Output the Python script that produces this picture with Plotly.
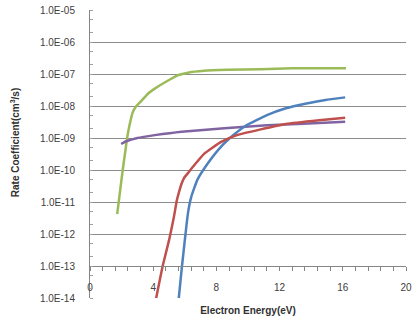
import plotly.graph_objects as go

# Electron energy (eV) and rate coefficients (cm^3/s)
green_E = [1.72, 2.07, 2.24, 2.35, 2.5, 2.7, 2.9, 3.1, 3.7, 4.1, 5.0, 5.6, 6.2, 7.2, 8.7, 10.8, 12.8, 16.2]
green_k = [4.2e-12, 1.0e-10, 4.0e-10, 1.0e-09, 2.5e-09, 6.3e-09, 9.5e-09, 1.2e-08, 2.5e-08,
           3.5e-08, 6.5e-08, 9.3e-08, 1.1e-07, 1.26e-07, 1.35e-07, 1.41e-07, 1.5e-07, 1.5e-07]

purple_E = [1.97, 2.3, 3.0, 4.1, 5.8, 8.5, 11.2, 13.5, 16.15]
purple_k = [6.5e-10, 7.9e-10, 1.0e-09, 1.23e-09, 1.58e-09, 2.0e-09, 2.5e-09, 2.8e-09, 3.2e-09]

blue_E = [5.6, 5.8, 6.0, 6.2, 6.4, 6.8, 7.45, 8.3, 9.1, 9.9, 11.2, 12.4, 13.7, 14.9, 16.15]
blue_k = [8.0e-15, 7.9e-14, 6.3e-13, 4.5e-12, 1.4e-11, 5.0e-11, 1.6e-10, 5.4e-10, 1.26e-09,
          2.5e-09, 5.2e-09, 8.5e-09, 1.2e-08, 1.55e-08, 1.86e-08]

red_E = [4.15, 4.6, 5.0, 5.3, 5.5, 5.65, 5.8, 5.95, 6.2, 6.45, 7.25, 8.3, 9.3, 10.8, 12.4, 14.5, 16.15]
red_k = [8.0e-15, 1.0e-13, 6.3e-13, 3.2e-12, 1.15e-11, 2.2e-11, 3.8e-11, 5.6e-11, 8.0e-11,
         1.15e-10, 3.3e-10, 7.6e-10, 1.23e-09, 1.86e-09, 2.75e-09, 3.6e-09, 4.3e-09]

y_tickvals = [1e-14, 1e-13, 1e-12, 1e-11, 1e-10, 1e-09, 1e-08, 1e-07, 1e-06, 1e-05]
y_ticktext = ["1.0E-14", "1.0E-13", "1.0E-12", "1.0E-11", "1.0E-10",
              "1.0E-09", "1.0E-08", "1.0E-07", "1.0E-06", "1.0E-05"]
x_tickvals = [0, 4, 8, 12, 16, 20]

fig = go.Figure()
for E, k, c in [(green_E, green_k, "#9BBB59"), (purple_E, purple_k, "#8064A2"),
                (blue_E, blue_k, "#4F81BD"), (red_E, red_k, "#C0504D")]:
    fig.add_trace(go.Scatter(x=E, y=k, mode="lines", line=dict(color=c, width=2.5, shape="spline", smoothing=0.4),
                             showlegend=False, hoverinfo="skip"))

font_col = "#404040"
fig.update_layout(
    width=414, height=320,
    margin=dict(l=90, r=2, t=10, b=22),
    paper_bgcolor="white", plot_bgcolor="white",
    font=dict(family="Liberation Sans, Arial, sans-serif", size=10, color=font_col),
    xaxis=dict(range=[0, 20], tickvals=x_tickvals, ticktext=[str(v) for v in x_tickvals],
               showgrid=False, zeroline=False, showline=True, linecolor="#868686", linewidth=1,
               anchor="free", position=1/9, ticks="outside", ticklen=4, tickcolor="#868686",
               ticklabelstandoff=8, ticklabeloverflow="allow",
               minor=dict(dtick=0.8, ticks="outside", ticklen=4, tickcolor="#868686"),
               title=dict(text="<b>Electron Energy(eV)</b>", standoff=14, font=dict(size=10, color="#303030"))),
    yaxis=dict(type="log", range=[-14, -5], tickvals=y_tickvals, ticktext=y_ticktext,
               showgrid=True, gridcolor="#8c8c8c", gridwidth=1, zeroline=False,
               showline=True, linecolor="#868686", linewidth=1, ticks="", ticklabelstandoff=12,
               minor=dict(ticks="inside", ticklen=3, tickcolor="#a0a0a0", showgrid=False)),
    annotations=[dict(text="<b>Rate Coefficient(cm<sup>3</sup>/s)</b>", textangle=-90,
                      xref="paper", yref="paper", x=-0.235, y=0.54, xanchor="center", yanchor="middle",
                      showarrow=False, font=dict(size=10, color="#303030"))],
)

fig.write_html("out.html")
